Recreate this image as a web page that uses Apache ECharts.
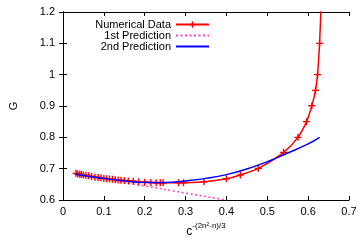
<!DOCTYPE html>
<html lang="en">
<head>
    <meta charset="UTF-8">
    <title>G</title>
    <style>
        html, body {
            margin: 0;
            padding: 0;
            background: #fff;
        }

        #main {
            width: 360px;
            height: 243px;
        }
    </style>
</head>
<body>
<div id="main"></div>
<script src="https://cdn.jsdelivr.net/npm/echarts@6/dist/echarts.min.js"></script>
<script>
    // numerical data (red, with + markers)
    let numX = [0.032, 0.036, 0.041, 0.045, 0.05, 0.056, 0.063, 0.07, 0.078, 0.086, 0.093, 0.1, 0.107,
        0.114, 0.121, 0.128, 0.135, 0.142, 0.15, 0.16, 0.172, 0.185, 0.2, 0.215, 0.228, 0.238, 0.245,
        0.283, 0.295, 0.345, 0.4, 0.434, 0.478, 0.54, 0.575, 0.596, 0.609, 0.618, 0.623, 0.628, 0.634]
    let numY = [0.685, 0.683, 0.682, 0.681, 0.68, 0.678, 0.677, 0.675, 0.673, 0.672, 0.671, 0.669, 0.668,
        0.667, 0.666, 0.665, 0.664, 0.663, 0.662, 0.661, 0.66, 0.658, 0.657, 0.656, 0.655, 0.655, 0.655,
        0.655, 0.655, 0.658, 0.668, 0.68, 0.701, 0.752, 0.8, 0.85, 0.901, 0.95, 1.0, 1.1, 1.3]
    // 1st prediction (pink, dotted)
    let pred1X = [0.03, 0.1, 0.2, 0.3, 0.4]
    let pred1Y = [0.683, 0.667, 0.645, 0.622, 0.6]
    // 2nd prediction (blue)
    let pred2X = [0.03, 0.06, 0.1, 0.15, 0.2, 0.25, 0.3, 0.35, 0.4, 0.45, 0.5, 0.55, 0.6, 0.628]
    let pred2Y = [0.683, 0.676, 0.669, 0.661, 0.656, 0.656, 0.661, 0.669, 0.681, 0.699, 0.722, 0.75, 0.779, 0.8]

    let xTicks = [0, 0.1, 0.2, 0.3, 0.4, 0.5, 0.6, 0.7]
    let yTicks = [0.6, 0.7, 0.8, 0.9, 1, 1.1, 1.2]

    const zip = (xs, ys) => xs.map((x, i) => [x, ys[i]])
    const plus = 'path://M4,0H6V4H10V6H6V10H4V6H0V4H4Z'
    const font = 'Liberation Sans'
    const axisBase = {
        axisLine: {lineStyle: {color: '#000', width: 1}},
        axisTick: {inside: true, length: 4, lineStyle: {color: '#000'}},
        splitLine: {show: false}
    }

    let myChart = echarts.init(document.querySelector('#main'))
    let option = {
        animation: false,
        textStyle: {fontFamily: font},
        grid: {left: 62, right: 11, top: 12, bottom: 36},
        legend: {
            orient: 'vertical',
            align: 'right',
            right: 150,
            top: 19,
            padding: 0,
            itemWidth: 33,
            itemHeight: 8,
            itemGap: 0,
            textStyle: {fontFamily: font, fontSize: 11, color: '#000', lineHeight: 10},
            data: ['Numerical Data', '1st Prediction', '2nd Prediction']
        },
        xAxis: [
            Object.assign({}, axisBase, {
                type: 'value',
                min: 0,
                max: 0.7,
                interval: 0.1,
                axisLabel: {
                    color: '#000', fontSize: 11, margin: 6,
                    formatter: v => xTicks.includes(+v.toFixed(2)) ? String(+v.toFixed(2)) : ''
                },
                name: '{b|c}{s|-(2n²-n)/3}',
                nameLocation: 'middle',
                nameGap: 22,
                nameTextStyle: {
                    rich: {
                        b: {fontSize: 12, color: '#000', fontFamily: font, verticalAlign: 'bottom'},
                        s: {fontSize: 8, color: '#000', fontFamily: font, padding: [0, 0, 8, 0]}
                    }
                }
            }),
            Object.assign({}, axisBase, {
                type: 'value', position: 'top', min: 0, max: 0.7, interval: 0.1,
                axisLabel: {show: false}
            })
        ],
        yAxis: [
            Object.assign({}, axisBase, {
                type: 'value',
                min: 0.6,
                max: 1.2,
                interval: 0.1,
                axisLabel: {
                    color: '#000', fontSize: 11, margin: 8,
                    formatter: v => yTicks.includes(+v.toFixed(2)) ? String(+v.toFixed(2)) : ''
                },
                name: 'G',
                nameLocation: 'middle',
                nameGap: 44,
                nameTextStyle: {fontSize: 11, color: '#000'}
            }),
            Object.assign({}, axisBase, {
                type: 'value', position: 'right', min: 0.6, max: 1.2, interval: 0.1,
                axisLabel: {show: false}
            })
        ],
        series: [
            {
                name: 'Numerical Data',
                type: 'line',
                data: zip(numX, numY),
                smooth: 0.3,
                symbol: plus,
                symbolSize: 7,
                showAllSymbol: true,
                itemStyle: {color: '#ff0000'},
                lineStyle: {color: '#ff0000', width: 1.5},
                z: 3
            },
            {
                name: '1st Prediction',
                type: 'line',
                data: zip(pred1X, pred1Y),
                smooth: true,
                showSymbol: false,
                itemStyle: {color: '#ff40c0', opacity: 0},
                lineStyle: {color: '#ff40c0', width: 1.5, type: [2, 2.5], opacity: 1}
            },
            {
                name: '2nd Prediction',
                type: 'line',
                data: zip(pred2X, pred2Y),
                smooth: true,
                showSymbol: false,
                itemStyle: {color: '#0000ff', opacity: 0},
                lineStyle: {color: '#0000ff', width: 1.5, opacity: 1},
                z: 4
            }
        ]
    }
    myChart.setOption(option)
</script>
</body>
</html>
